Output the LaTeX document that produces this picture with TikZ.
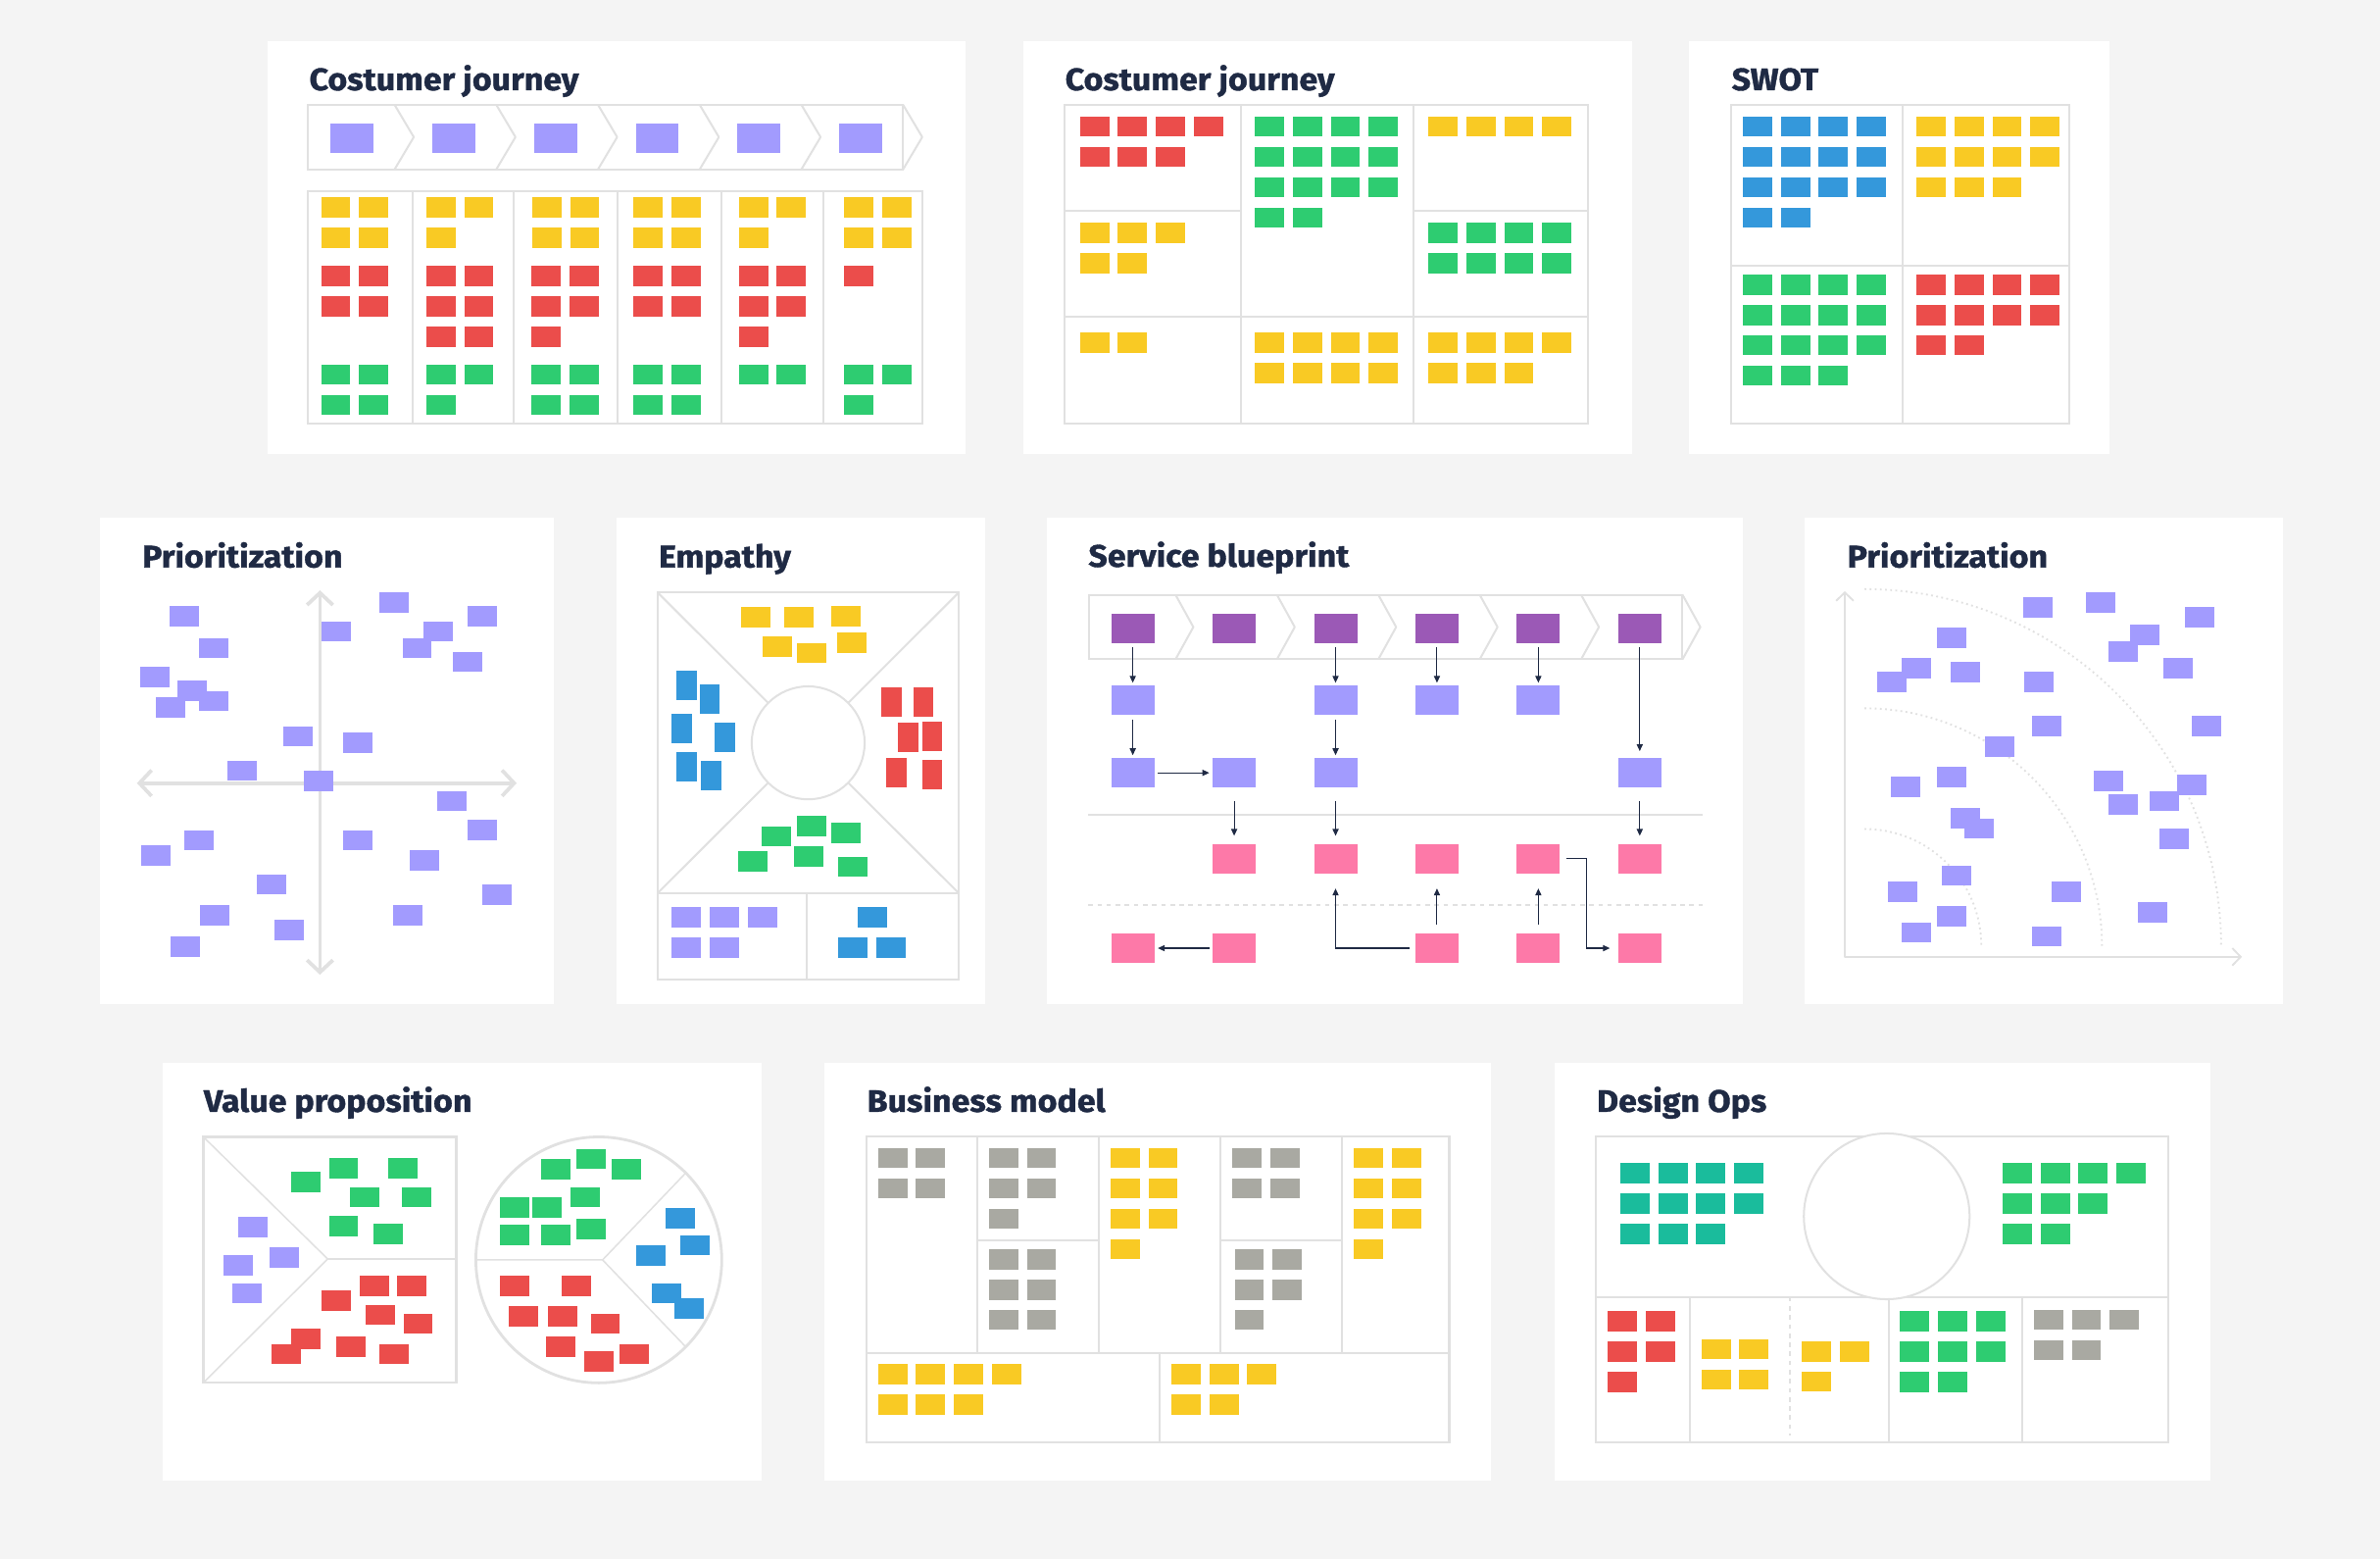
\documentclass[tikz,border=0pt]{standalone}
\usepackage{fontspec}
\newfontfamily\ttlfont{Fira Sans}[FakeStretch=1.07, FakeBold=1.2]
\usetikzlibrary{arrows.meta,calc}
\definecolor{bg}{HTML}{F4F4F4}
\definecolor{lne}{HTML}{E1E1E1}
\definecolor{ink}{HTML}{1F2A44}
\definecolor{ny}{HTML}{F9CA24}
\definecolor{nr}{HTML}{EB4D4B}
\definecolor{ng}{HTML}{2ECC71}
\definecolor{nb}{HTML}{3498DB}
\definecolor{nl}{HTML}{A29BFE}
\definecolor{np}{HTML}{9B59B6}
\definecolor{nk}{HTML}{FD79A8}
\definecolor{nt}{HTML}{1ABC9C}
\definecolor{ns}{HTML}{A9A9A2}
\tikzset{
  panel/.style={fill=white},
  note/.style={inner sep=0pt, outer sep=0pt, minimum width=19.3pt, minimum height=13.3pt, anchor=north west},
  vnote/.style={note, minimum width=13.3pt, minimum height=19.3pt},
  bnote/.style={inner sep=0pt, outer sep=0pt, minimum width=28.4pt, minimum height=19.2pt},
  frm/.style={draw=lne, line width=1.3pt},
  ttl/.style={anchor=base west, inner sep=0pt, text=ink, font=\ttlfont\bfseries\fontsize{20.5}{24}\selectfont},
  flow/.style={draw=ink, line width=0.7pt, -{Triangle[length=4.5pt, width=4pt]}},
  axa/.style={draw=lne, line width=2.4pt, line cap=round, line join=round,
    {Straight Barb[length=8pt, width=17pt]}-{Straight Barb[length=8pt, width=17pt]}},
  axb/.style={draw=lne, line width=1.2pt, line cap=round, line join=round,
    {Straight Barb[length=5.5pt, width=11.5pt]}-{Straight Barb[length=5.5pt, width=11.5pt]}},
  ring/.style={draw=lne, line width=1.2pt, dash pattern=on 1.2pt off 2.2pt}}
\newcommand\notegrid[5]{%
  \foreach \nn [count=\rw] in {#5} {%
    \foreach \kk in {1,...,\nn} {%
      \node[note, fill=#4] (#1-\rw-\kk) at ({#2+25*(\kk-1)},{#3+20*(\rw-1)}) {};
    }%
  }%
}

\begin{document}
\begin{tikzpicture}[x=1pt, y=-1pt]
\fill[bg] (0,0) rectangle (1568,1027);
\fill[panel] (176,27) rectangle (636,299);
\fill[panel] (674,27) rectangle (1075,299);
\fill[panel] (1113,27) rectangle (1390,299);
\fill[panel] (66,341) rectangle (365,661);
\fill[panel] (406,341) rectangle (649,661);
\fill[panel] (690,341) rectangle (1148,661);
\fill[panel] (1189,341) rectangle (1504,661);
\fill[panel] (107,700) rectangle (502,975);
\fill[panel] (543,700) rectangle (982,975);
\fill[panel] (1024,700) rectangle (1456,975);

\node[ttl] (cja-t) at (203.6,59.4) {Costumer journey};
\draw[frm] (203,69.1) rectangle (595,111.5);
\foreach \i in {0,...,5} \draw[frm, line join=round] ({260+67*\i},69.1) -- ++(12.6,21.2) -- ++(-12.6,21.2);
\foreach \i in {0,...,5} \node[bnote, fill=nl] (cja-s\i) at ({232+67*\i},91.1) {};
\draw[frm] (203,125.7) rectangle (607.4,279);
\foreach \x in {271.7,338.4,406.8,475,542.5} \draw[frm] (\x,125.7) -- (\x,279);
\notegrid{cja1y}{211.5}{130}{ny}{2,2}
\notegrid{cja1r}{211.5}{175}{nr}{2,2}
\notegrid{cja1g}{211.5}{240}{ng}{2,2}
\notegrid{cja2y}{280.8}{130}{ny}{2,1}
\notegrid{cja2r}{280.8}{175}{nr}{2,2,2}
\notegrid{cja2g}{280.8}{240}{ng}{2,1}
\notegrid{cja3y}{350.6}{130}{ny}{2,2}
\notegrid{cja3r}{350.2}{175}{nr}{2,2,1}
\notegrid{cja3g}{350.2}{240}{ng}{2,2}
\notegrid{cja4y}{417.4}{130}{ny}{2,2}
\notegrid{cja4r}{417.4}{175}{nr}{2,2}
\notegrid{cja4g}{417.4}{240}{ng}{2,2}
\notegrid{cja5y}{486.7}{130}{ny}{2,1}
\notegrid{cja5r}{486.7}{175}{nr}{2,2,1}
\notegrid{cja5g}{486.7}{240}{ng}{2}
\notegrid{cja6y}{556}{130}{ny}{2,2}
\notegrid{cja6r}{556}{175}{nr}{1}
\notegrid{cja6g}{556}{240}{ng}{2,1}

\node[ttl] (cjb-t) at (701.6,59.4) {Costumer journey};
\draw[frm] (701.6,69.1) rectangle (1046.4,279);
\draw[frm] (817.4,69.1) -- (817.4,279) (931.5,69.1) -- (931.5,279);
\draw[frm] (701.6,139.1) -- (817.4,139.1) (931.5,139.1) -- (1046.4,139.1);
\draw[frm] (701.6,208.4) -- (1046.4,208.4);
\notegrid{cjb1}{711.5}{76.6}{nr}{4,3}
\notegrid{cjb2}{711.5}{146.6}{ny}{3,2}
\notegrid{cjb3}{711.5}{218.9}{ny}{2}
\notegrid{cjb4}{826.7}{76.6}{ng}{4,4,4,2}
\notegrid{cjb5}{826.7}{218.9}{ny}{4,4}
\notegrid{cjb6}{941}{76.6}{ny}{4}
\notegrid{cjb7}{941}{146.6}{ng}{4,4}
\notegrid{cjb8}{941}{218.9}{ny}{4,3}

\node[ttl] (sw-t) at (1140.7,59.4) {SWOT};
\draw[frm] (1140.7,69.1) rectangle (1363.5,279);
\draw[frm] (1253.3,69.1) -- (1253.3,279) (1140.7,175) -- (1363.5,175);
\notegrid{sws}{1148.2}{76.6}{nb}{4,4,4,2}
\notegrid{sww}{1262.6}{76.6}{ny}{4,4,3}
\notegrid{swo}{1148.2}{180.8}{ng}{4,4,4,3}
\notegrid{swt}{1262.6}{180.8}{nr}{4,4,2}

\node[ttl] (pra-t) at (93.5,373.7) {Prioritization};
\draw[axa] (90.2,515.8) -- (340.4,515.8);
\draw[axa] (210.8,388.8) -- (210.8,642);
\foreach \x/\y [count=\i] in {111.8/399.3, 130.9/420.2, 92.4/439.4, 116.7/448.4, 130.9/455.1, 102.5/459.4,
  186.7/478.4, 225.9/482.7, 149.9/501, 200/507.6, 211.9/409.3, 250/390.1, 308.3/399.3, 279.3/409.3,
  265.1/420.2, 298.4/429.3, 288.3/521, 308.3/540.2, 225.9/546.8, 270/560.2, 317.6/582.8, 259.2/596.1,
  121.7/546.8, 93.2/556.7, 169.2/575.9, 131.6/596.1, 180.9/606, 112.4/616.8}
  \node[note, fill=nl] (pra-\i) at (\x,\y) {};

\node[ttl] (emp-t) at (433.8,373.7) {Empathy};
\draw[frm] (433.3,390.3) rectangle (631.6,645);
\draw[frm] (433.3,588.2) -- (631.6,588.2) (531.3,588.2) -- (531.3,645);
\draw[frm] (433.3,390.3) -- (631.6,588.2) (631.6,390.3) -- (433.3,588.2);
\draw[frm, fill=white] (532.45,489.25) circle[radius=37.2];
\foreach \x/\y [count=\i] in {488.2/400, 516.6/400, 547.4/399.1, 502.4/419.2, 525/423.5, 551.5/416.6}
  \node[note, fill=ny] (emp-y\i) at (\x,\y) {};
\foreach \x/\y [count=\i] in {445.8/441.8, 460.9/451, 442.6/470.2, 470.8/476, 445.8/495.2, 461.7/501}
  \node[vnote, fill=nb] (emp-b\i) at (\x,\y) {};
\foreach \x/\y [count=\i] in {580.8/452.5, 601.7/452.5, 591.8/476, 607.5/475.6, 584/499.2, 607.5/500.5}
  \node[vnote, fill=nr] (emp-r\i) at (\x,\y) {};
\foreach \x/\y [count=\i] in {501.8/544.2, 525/537.6, 547.4/541.9, 486.5/560.8, 523.3/557.6, 552.4/564.3}
  \node[note, fill=ng] (emp-g\i) at (\x,\y) {};
\notegrid{empl}{442.6}{597.6}{nl}{3,2}
\foreach \x/\y [count=\i] in {565.1/597.6, 552.4/617.7, 577.4/617.7}
  \node[note, fill=nb] (emp-c\i) at (\x,\y) {};

\node[ttl] (sb-t) at (716.9,373.3) {Service blueprint};
\draw[frm] (717.5,391.8) rectangle (1108.4,434.2);
\foreach \i in {0,...,5} \draw[frm, line join=round] ({774.5+66.8*\i},391.8) -- ++(11.7,21.2) -- ++(-11.7,21.2);
\draw[frm] (717,536.5) -- (1121.6,536.5);
\draw[frm, dash pattern=on 3pt off 3pt] (717,595.9) -- (1121.6,595.9);
\foreach \c in {1,...,6} \node[bnote, fill=np] (sb-1-\c) at ({746.3+66.8*(\c-1)},413.8) {};
\foreach \c in {1,3,4,5} \node[bnote, fill=nl] (sb-2-\c) at ({746.3+66.8*(\c-1)},461.3) {};
\foreach \c in {1,2,3,6} \node[bnote, fill=nl] (sb-3-\c) at ({746.3+66.8*(\c-1)},509) {};
\foreach \c in {2,...,6} \node[bnote, fill=nk] (sb-4-\c) at ({746.3+66.8*(\c-1)},565.6) {};
\foreach \c in {1,2,4,5,6} \node[bnote, fill=nk] (sb-5-\c) at ({746.3+66.8*(\c-1)},624.5) {};
\foreach \a/\b in {1-1/2-1, 1-3/2-3, 1-4/2-4, 1-5/2-5, 2-1/3-1, 2-3/3-3}
  \draw[flow, shorten <=3pt, shorten >=2pt] (sb-\a) -- (sb-\b);
\draw[flow, shorten <=3pt, shorten >=4.7pt] (sb-1-6) -- (sb-3-6);
\foreach \a/\b in {3-2/4-2, 3-3/4-3, 3-6/4-6}
  \draw[flow, shorten <=9pt, shorten >=5.5pt] (sb-\a) -- (sb-\b);
\draw[flow, shorten <=2.3pt, shorten >=2.2pt] (sb-3-1) -- (sb-3-2);
\draw[flow, shorten <=2.2pt, shorten >=2.3pt] (sb-5-2) -- (sb-5-1);
\foreach \a/\b in {5-4/4-4, 5-5/4-5}
  \draw[flow, shorten <=6pt, shorten >=10pt] (sb-\a) -- (sb-\b);
\draw[flow, shorten <=4pt, shorten >=5.5pt] (sb-4-5.east) -- ++(17.6,0) |- (sb-5-6.west);
\draw[flow, shorten <=3.6pt, shorten >=10pt] (sb-5-4.west) -| (sb-4-3.south);

\node[ttl] (prb-t) at (1216.9,373.7) {Prioritization};
\draw[axb] (1215.4,389.4) -- (1215.4,630.2) -- (1477,630.2);
\foreach \r in {77,156.5,235} \draw[ring] (1228.3,{623-\r}) arc[start angle=-90, end angle=0, radius=\r];
\foreach \x/\y [count=\i] in {1332.7/393.3, 1374.5/390.1, 1439.3/400, 1275.9/413.6, 1403.6/411.6, 1389.3/422.6,
  1252.8/433.4, 1236.7/442.4, 1285.1/436, 1333.6/442.4, 1425.3/433.4, 1338.5/471.7, 1444.2/471.7,
  1307.7/485, 1275.9/505, 1246/511.7, 1379.4/507.6, 1416/521, 1434.3/510.2, 1389.3/523.4, 1285.1/532.4,
  1294.2/539.1, 1422.7/546, 1279.3/570.1, 1243.6/580.8, 1351.9/580.8, 1275.9/596.8, 1408.5/594.2,
  1252.8/607.5, 1338.5/610.1}
  \node[note, fill=nl] (prb-\i) at (\x,\y) {};

\node[ttl] (vp-t) at (134.1,732.3) {Value proposition};
\draw[frm, line width=1.8pt] (134.1,748.9) rectangle (300.5,910.6);
\draw[frm, line width=1pt] (134.1,748.9) -- (215.9,829.2) -- (134.1,910.6) (215.9,829.2) -- (300.5,829.2);
\draw[frm, line width=1.8pt] (394.5,829.8) circle[radius=81];
\draw[frm, line width=1pt] (313.5,829.8) -- (397,829.8) -- (451.8,772.5) (397,829.8) -- (451.8,887.1);
\foreach \x/\y [count=\i] in {191.8/771.7, 216.7/762.7, 255.7/762.7, 230.8/781.8, 265/781.8, 216.7/801, 245.9/805.9}
  \node[note, fill=ng] (vp-g\i) at (\x,\y) {};
\foreach \x/\y [count=\i] in {156.8/801.6, 177.7/821.6, 147.5/826.8, 153.3/845.1}
  \node[note, fill=nl] (vp-l\i) at (\x,\y) {};
\foreach \x/\y [count=\i] in {236.8/840.2, 261.5/840.2, 211.7/850.1, 240.9/859.3, 265.8/865.1, 191.8/875.3,
  179.2/885.2, 221.7/880.2, 249.9/885.2}
  \node[note, fill=nr] (vp-r\i) at (\x,\y) {};
\foreach \x/\y [count=\i] in {380/756.8, 356.6/763.5, 403.2/763.5, 376/781.8, 329.4/788.5, 350.8/788.5,
  329.4/806.8, 356.6/806.8, 380/802.7}
  \node[note, fill=ng] (vp-cg\i) at (\x,\y) {};
\foreach \x/\y [count=\i] in {438.4/795.8, 448.3/813.5, 419.3/820.1, 429.4/845.1, 444.5/855}
  \node[note, fill=nb] (vp-cb\i) at (\x,\y) {};
\foreach \x/\y [count=\i] in {329.4/840.2, 369.9/840.2, 335.2/860.2, 360.9/860.2, 389.1/865.1, 359.9/880.2,
  408.2/885.2, 385.1/890.1}
  \node[note, fill=nr] (vp-cr\i) at (\x,\y) {};

\node[ttl] (bm-t) at (571.1,732.3) {Business model};
\draw[frm] (570.8,748.2) rectangle (954.8,950.2);
\draw[frm] (570.8,891) -- (954.8,891);
\foreach \x in {643.9,724,804.2,884.3} \draw[frm] (\x,748.2) -- (\x,891);
\draw[frm] (643.9,816.7) -- (724,816.7) (804.2,816.7) -- (884.3,816.7);
\draw[frm] (764.1,891) -- (764.1,950.2);
\notegrid{bma}{578.4}{756}{ns}{2,2}
\notegrid{bmb}{651.5}{756}{ns}{2,2,1}
\notegrid{bmc}{651.5}{822.7}{ns}{2,2,2}
\notegrid{bmd}{731.6}{756}{ny}{2,2,2,1}
\notegrid{bme}{811.7}{756}{ns}{2,2}
\notegrid{bmf}{813.4}{822.7}{ns}{2,2,1}
\notegrid{bmg}{891.8}{756}{ny}{2,2,2,1}
\notegrid{bmh}{578.4}{898.5}{ny}{4,3}
\notegrid{bmi}{771.7}{898.5}{ny}{3,2}

\node[ttl] (do-t) at (1051.8,732.3) {Design Ops};
\draw[frm] (1051.5,748.4) rectangle (1428.4,950.2);
\draw[frm] (1051.5,854.2) -- (1428.4,854.2);
\foreach \x in {1113.2,1244.3,1332.5} \draw[frm] (\x,854.2) -- (\x,950.2);
\draw[frm, dash pattern=on 3pt off 3pt] (1179,854.2) -- (1179,945.4);
\draw[frm, fill=white] (1243,801.1) circle[radius=54.6];
\notegrid{doa}{1067.5}{765.9}{nt}{4,4,3}
\notegrid{dob}{1319.3}{765.9}{ng}{4,3,2}
\notegrid{doc}{1059.2}{863.6}{nr}{2,2,1}
\notegrid{dod}{1120.9}{881.9}{ny}{2,2}
\notegrid{doe}{1187}{883.4}{ny}{2,1}
\notegrid{dof}{1251.8}{863.6}{ng}{3,3,2}
\notegrid{dog}{1339.9}{862.5}{ns}{3,2}
\end{tikzpicture}
\end{document}
